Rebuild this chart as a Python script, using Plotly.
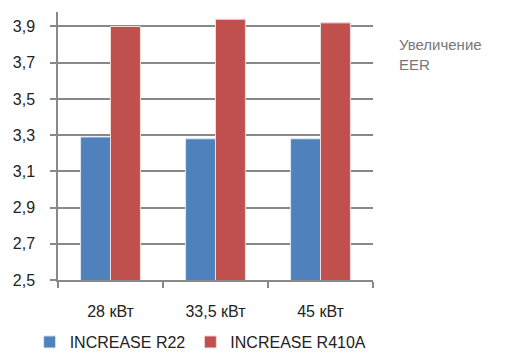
import plotly.graph_objects as go

categories = ["28 кВт", "33,5 кВт", "45 кВт"]
r22 = [3.29, 3.28, 3.28]
r410a = [3.90, 3.94, 3.92]
y_ticks = [2.5, 2.7, 2.9, 3.1, 3.3, 3.5, 3.7, 3.9]
y_labels = ["2,5", "2,7", "2,9", "3,1", "3,3", "3,5", "3,7", "3,9"]

font = "Liberation Sans, Arial, sans-serif"

fig = go.Figure()
fig.add_trace(go.Bar(x=categories, y=r22, name="INCREASE R22",
                     marker=dict(color="#4F81BD", line=dict(color="#dfe6f0", width=1))))
fig.add_trace(go.Bar(x=categories, y=r410a, name="INCREASE R410A",
                     marker=dict(color="#C0504D", line=dict(color="#f0dcdc", width=1))))

# page body has an 8px margin, so the figure is laid out 8px up/left
fig.update_layout(
    width=509, height=354,
    margin=dict(l=50, r=144, t=4, b=82, autoexpand=False),
    paper_bgcolor="white", plot_bgcolor="white",
    font=dict(family=font, size=16, color="#222"),
    barmode="group", bargap=0.43, bargroupgap=0,
    showlegend=True,
    legend=dict(orientation="h", x=-0.09, xanchor="left", y=-0.168, yanchor="top",
                font=dict(size=16, color="#222"), itemwidth=30, tracegroupgap=0),
    annotations=[dict(text="Увеличение<br>EER", xref="paper", yref="paper",
                      x=1.076, y=0.918, xanchor="left", yanchor="top", showarrow=False,
                      align="left", font=dict(size=15, color="#777"))],
)
fig.update_xaxes(showline=True, linecolor="#888", linewidth=1.5, ticks="outside",
                 tickson="boundaries", ticklen=6, tickcolor="#888", tickwidth=1.5,
                 showgrid=False, ticklabelstandoff=16,
                 tickfont=dict(size=16, color="#222"))
fig.update_yaxes(range=[2.5, 3.98], tickvals=y_ticks, ticktext=y_labels,
                 showline=True, linecolor="#888", linewidth=1.5, ticks="outside",
                 ticklen=6, tickcolor="#888", tickwidth=1.5, ticklabelstandoff=12,
                 showgrid=True, gridcolor="#888", gridwidth=1.5, zeroline=False,
                 tickfont=dict(size=16, color="#222"))

fig.write_html("out.html")
